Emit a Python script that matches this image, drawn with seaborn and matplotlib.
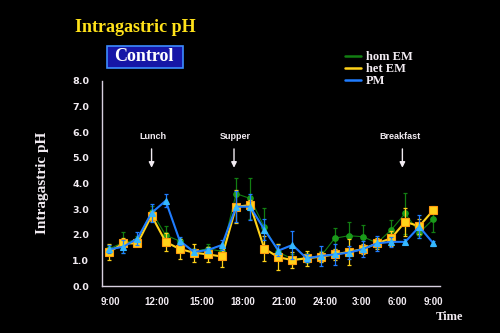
import numpy as np
import pandas as pd
import matplotlib
matplotlib.use("Agg")
import matplotlib.pyplot as plt
from matplotlib.lines import Line2D
from matplotlib.patches import FancyBboxPatch
import seaborn as sns

# ---- data ----
hours = list(range(24))  # hourly sampling points, 9:00 -> 9:00
tick_pos = [0.1, 3.35, 6.55, 9.5, 12.4, 15.3, 17.9, 20.45, 23.0]
tick_labels = ["9:00", "12:00", "15:00", "18:00", "21:00", "24:00", "3:00", "6:00", "9:00"]

hom_em = [1.45, 1.70, 1.80, 2.90, 1.98, 1.75, 1.35, 1.45, 1.35, 3.60, 3.41, 2.30,
          1.32, 1.05, 1.10, 1.15, 1.86, 1.96, 1.92, 1.68, 2.18, 2.83, 2.07, 2.61]
hom_err = [0.15, 0.40, 0.15, 0.20, 0.35, 0.10, 0.10, 0.20, 0.20, 0.60, 0.80, 0.75,
           0.30, 0.20, 0.20, 0.20, 0.40, 0.55, 0.45, 0.20, 0.40, 0.80, 0.20, 0.50]
het_em = [1.33, 1.66, 1.66, 2.74, 1.72, 1.44, 1.30, 1.23, 1.15, 3.09, 3.15, 1.46,
          1.12, 1.01, 1.08, 1.14, 1.23, 1.33, 1.44, 1.66, 1.86, 2.50, 2.33, 2.96]
het_err = [0.30, 0.20, 0.10, 0.20, 0.35, 0.40, 0.35, 0.30, 0.40, 0.65, 0.20, 0.50,
           0.50, 0.30, 0.30, 0.20, 0.20, 0.50, 0.20, 0.20, 0.30, 0.55, 0.30, 0.10]
pm = [1.43, 1.53, 1.85, 2.85, 3.32, 1.76, 1.33, 1.40, 1.60, 3.09, 3.09, 2.20,
      1.38, 1.60, 1.08, 1.17, 1.23, 1.30, 1.44, 1.66, 1.72, 1.72, 2.31, 1.66]
pm_err = [0.15, 0.25, 0.25, 0.35, 0.25, 0.15, 0.10, 0.10, 0.20, 0.60, 0.50, 0.40,
          0.20, 0.55, 0.15, 0.40, 0.40, 0.25, 0.30, 0.30, 0.20, 0.10, 0.45, 0.10]

groups = ["hom EM", "het EM", "PM"]
colors = {"hom EM": "#127e12", "het EM": "#ffd21a", "PM": "#1f7cff"}
mfc = {"hom EM": "#1a9a1a", "het EM": "#ffd21a", "PM": "#35b8ff"}
mec = {"hom EM": "#1a9a1a", "het EM": "#ff9a10", "PM": "#35b8ff"}
markers = {"hom EM": "o", "het EM": "s", "PM": "^"}
msize = {"hom EM": 4.0, "het EM": 5.5, "PM": 5.0}
lw = {"hom EM": 0.8, "het EM": 1.5, "PM": 1.5}

df = pd.DataFrame({
    "hour": hours * 3,
    "pH": hom_em + het_em + pm,
    "err": hom_err + het_err + pm_err,
    "group": ["hom EM"] * 24 + ["het EM"] * 24 + ["PM"] * 24,
})

sns.set_style("dark")
plt.rcParams["font.family"] = ["Liberation Sans", "DejaVu Sans"]
fig = plt.figure(figsize=(5.0, 3.33), dpi=100, facecolor="black")
ax = fig.add_axes([0.2034, 0.1411, 0.6766, 0.6166], facecolor="black")

fg = "#f2ecf2"
for i, g in enumerate(groups):
    sub = df[df.group == g]
    ax.errorbar(sub.hour, sub.pH, yerr=sub.err, fmt="none", ecolor=colors[g],
                elinewidth=0.9, capsize=1.5, capthick=0.9, zorder=2 + i)
    sns.lineplot(data=sub, x="hour", y="pH", ax=ax, color=colors[g], lw=lw[g],
                 marker=markers[g], markersize=msize[g], markerfacecolor=mfc[g],
                 markeredgecolor=mec[g], markeredgewidth=0.8, legend=False,
                 zorder=3 + i, errorbar=None)

ax.set_xlim(-0.54, 23.47)
ax.set_ylim(0, 8)
ax.set_yticks(np.arange(0, 8.1, 1.0))
ax.set_yticklabels([f"{v:.1f}" for v in np.arange(0, 8.1, 1.0)],
                   fontsize=6.8, fontweight="bold", color=fg, family="DejaVu Sans")
ax.set_xticks(tick_pos)
ax.set_xticklabels(tick_labels, fontsize=7, fontweight="bold", color=fg)
ax.set_xticks(hours, minor=True)
ax.tick_params(axis="x", which="major", length=0, pad=8)
ax.tick_params(axis="x", which="minor", length=2, width=0.8, color="#d8d0e0", direction="out")
ax.tick_params(axis="y", which="major", length=2, width=0.8, color="#d8d0e0", pad=7)
ax.grid(False)
ax.set_xlabel("")
ax.set_ylabel("Intragastric pH", family="Liberation Serif", fontweight="bold",
              fontsize=11, color=fg, labelpad=17)
for s in ["top", "right"]:
    ax.spines[s].set_visible(False)
for s in ["left", "bottom"]:
    ax.spines[s].set_visible(True)
    ax.spines[s].set_color("#d8d0e0")
    ax.spines[s].set_linewidth(1.0)

# meal annotations
meals = [("Lunch", 3.0, 3.1), ("Supper", 8.85, 8.92), ("Breakfast", 20.8, 20.6)]
for name, ax_x, tx in meals:
    ax.text(tx, 5.84, name, ha="center", va="center", fontsize=6.5,
            fontweight="bold", color=fg)
    ax.annotate("", xy=(ax_x, 4.5), xytext=(ax_x, 5.45),
                arrowprops=dict(arrowstyle="-|>", color=fg, lw=1.0, mutation_scale=8))

# title and box
fig.text(0.27, 0.918, "Intragastric pH", ha="center", va="center",
         family="Liberation Serif", fontweight="bold", fontsize=13, color="#ffe21a")
box = FancyBboxPatch((0.214, 0.796), 0.152, 0.066, boxstyle="square,pad=0",
                     transform=fig.transFigure, facecolor="#1616a6",
                     edgecolor="#3c8cff", linewidth=1.2)
fig.patches.append(box)
fig.text(0.287, 0.829, "Control", ha="center", va="center",
         family="Liberation Serif", fontweight="bold", fontsize=13, color="white")

# legend
handles = [Line2D([0], [0], color=colors[g], lw=1.8) for g in groups]
leg = fig.legend(handles, groups, loc="upper left", bbox_to_anchor=(0.68, 0.862),
                 frameon=False, handlelength=1.3, handletextpad=0.4,
                 labelspacing=0.02, borderaxespad=0,
                 prop={"family": "Liberation Serif", "weight": "bold", "size": 9})
for t in leg.get_texts():
    t.set_color(fg)

fig.text(0.872, 0.048, "Time", ha="left", va="center", family="Liberation Serif",
         fontweight="bold", fontsize=9, color=fg)

fig.savefig("out.png", dpi=100, facecolor="black")
